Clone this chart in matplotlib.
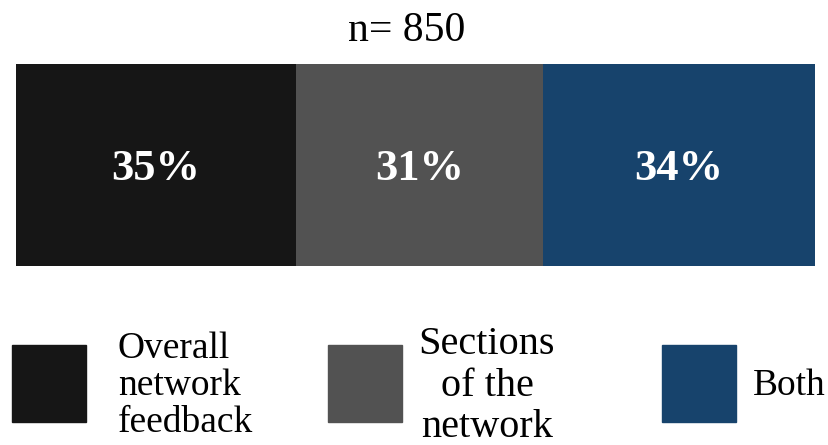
import matplotlib.pyplot as plt
from matplotlib.patches import Rectangle
import numpy as np

# shares of responses
categories = ['Overall\nnetwork\nfeedback', 'Sections\nof the\nnetwork', 'Both']
shares = [35, 31, 34]
labels = ['35%', '31%', '34%']
colors = ['#161616', '#525252', '#17436c']
n_total = 850

plt.rcParams['font.family'] = ['Liberation Serif', 'DejaVu Serif']

W, H = 829, 445
fig = plt.figure(figsize=(W / 100, H / 100), dpi=100)

# stacked bar
ax = fig.add_axes([16 / W, 1 - 266 / H, 799 / W, 202 / H])
lefts = np.concatenate([[0], np.cumsum(shares)[:-1]])
ax.barh(0, shares, left=lefts, height=1, color=colors, linewidth=0)
for l, s, lab in zip(lefts, shares, labels):
    ax.text(l + s / 2, -0.02, lab, ha='center', va='center', color='white',
            fontsize=32, fontweight='bold')
ax.set_xlim(0, sum(shares))
ax.set_ylim(-0.5, 0.5)
ax.axis('off')

fig.text(0.49, 1 - 31 / H, f'n= {n_total}', ha='center', va='center', fontsize=30)

# legend
sq_x = [12, 328, 662]
txt_x = [118, 487, 753]
txt_ha = ['left', 'center', 'left']
sizes = [27, 29, 27]
spacing = [1.1, 1.15, 1.0]
for c, cat, sx, tx, ha, fs, sp in zip(colors, categories, sq_x, txt_x, txt_ha, sizes, spacing):
    fig.add_artist(Rectangle((sx / W, 1 - 422 / H), 74 / W, 77 / H,
                             transform=fig.transFigure, color=c))
    fig.text(tx / W, 1 - 386 / H, cat, ha=ha, va='center', fontsize=fs,
             linespacing=sp, multialignment='center' if ha == 'center' else 'left')

fig.savefig('out.png', dpi=100)
